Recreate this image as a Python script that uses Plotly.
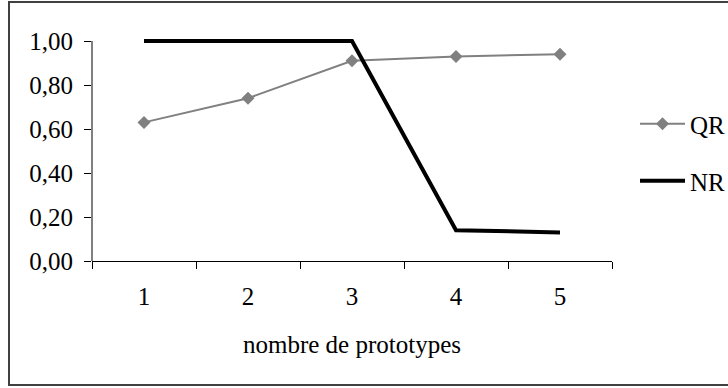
import plotly.graph_objects as go

# Nombre de prototypes et scores des deux séries
prototypes = ["1", "2", "3", "4", "5"]
qr_values = [0.63, 0.74, 0.91, 0.93, 0.94]
nr_values = [1.00, 1.00, 1.00, 0.14, 0.13]
y_ticks = [0.0, 0.2, 0.4, 0.6, 0.8, 1.0]
y_tick_labels = ["0,00", "0,20", "0,40", "0,60", "0,80", "1,00"]

FONT = dict(family="Liberation Serif, Times New Roman, serif", size=25, color="black")

fig = go.Figure()
fig.add_trace(go.Scatter(
    x=prototypes, y=qr_values, name="QR", mode="lines+markers",
    line=dict(color="#808080", width=2),
    marker=dict(symbol="diamond", size=10, color="#808080"),
    legend="legend",
))
fig.add_trace(go.Scatter(
    x=prototypes, y=nr_values, name="NR", mode="lines",
    line=dict(color="black", width=4),
    legend="legend2",
))

W, H = 728, 388
L, R, T, B = 92, 116, 38, 127
Y_TOP = 1.0 + 3 / 220  # un peu d'air pour ne pas rogner le trait épais à 1,00
pw, ph = W - L - R, H - T - B


def px(x):
    return (x - L) / pw


def py(y):
    return (H - B - y) / ph


fig.update_layout(
    width=W, height=H,
    margin=dict(l=L, r=R, t=T, b=B),
    paper_bgcolor="white", plot_bgcolor="white",
    font=FONT,
    showlegend=True,
    legend=dict(x=635 / W, y=1 - 124 / H, xref="container", yref="container",
                xanchor="left", yanchor="middle", font=FONT, itemwidth=45,
                bgcolor="rgba(0,0,0,0)"),
    legend2=dict(x=635 / W, y=1 - 181 / H, xref="container", yref="container",
                 xanchor="left", yanchor="middle", font=FONT, itemwidth=45,
                 bgcolor="rgba(0,0,0,0)"),
    xaxis=dict(
        type="category", range=[-0.5, 4.5],
        showline=True, linecolor="black", linewidth=1,
        ticks="outside", ticklen=7, tickcolor="black",
        tickson="boundaries", showgrid=False, zeroline=False,
        tickfont=FONT, ticklabelstandoff=13,
        title=dict(text="nombre de prototypes", font=FONT, standoff=26),
    ),
    yaxis=dict(
        range=[0, Y_TOP], tickvals=y_ticks, ticktext=y_tick_labels,
        showline=False,
        ticks="outside", ticklen=7, tickcolor="black",
        showgrid=False, zeroline=False, tickfont=FONT, ticklabelstandoff=6,
    ),
    shapes=[
        # axe vertical de 0 à 1
        dict(type="line", xref="paper", yref="y", x0=0, x1=0, y0=0, y1=1,
             line=dict(color="black", width=1)),
        # cadre extérieur (ouvert à droite)
        dict(type="path", xref="paper", yref="paper",
             path=f"M {px(740)} {py(2)} L {px(9)} {py(2)} L {px(9)} {py(385)} L {px(740)} {py(385)}",
             line=dict(color="#404040", width=2), layer="below"),
    ],
)

fig.write_html("out.html")
